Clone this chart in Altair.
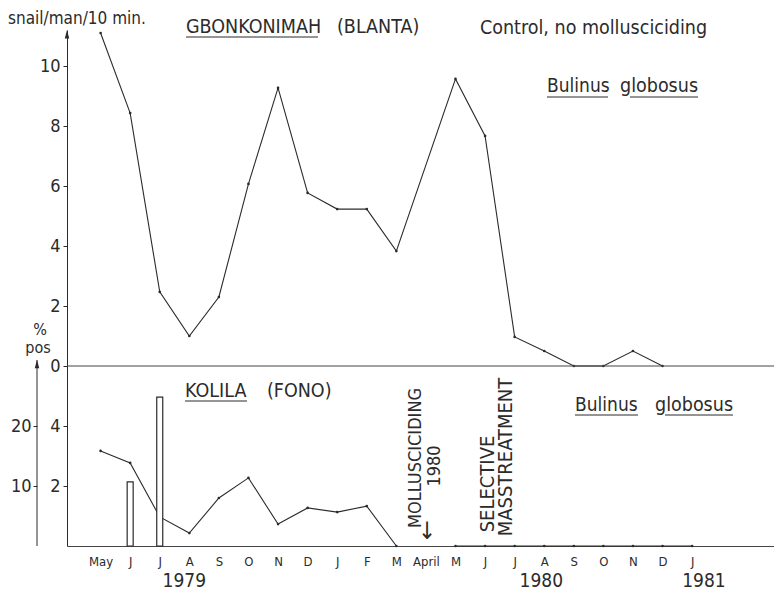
import altair as alt
import pandas as pd

# ---------------- data ----------------
months = ["May", "J", "J", "A", "S", "O", "N", "D", "J", "F", "M", "April",
          "M", "J", "J", "A", "S", "O", "N", "D", "J"]
month_idx = list(range(len(months)))

# Gbonkonimah (Blanta) snails / man / 10 min
top_idx = [0, 1, 2, 3, 4, 5, 6, 7, 8, 9, 10, 12, 13, 14, 15, 16, 17, 18, 19]
top_val = [11.1, 8.43, 2.47, 1.0, 2.3, 6.07, 9.27, 5.77, 5.23, 5.23, 3.83,
           9.57, 7.67, 0.97, 0.5, 0.0, 0.0, 0.5, 0.0]

# Kolila (Fono) snails / man / 10 min
bot_idx = [0, 1, 2, 3, 4, 5, 6, 7, 8, 9, 10, 12, 13, 14, 15, 16, 17, 18, 19, 20]
bot_val = [3.17, 2.77, 0.97, 0.43, 1.6, 2.27, 0.73, 1.27, 1.13, 1.33, 0.0,
           0, 0, 0, 0, 0, 0, 0, 0, 0]
bot_seg = ["a"] * 11 + ["b"] * 9

# Kolila % positive (bars)
bar_idx = [1, 2]
bar_pct = [10.7, 24.8]

years = ["1979", "1980", "1981"]

TOP_OFFSET = 6  # upper panel sits 6 units above the lower panel's baseline

# ---------------- styling ----------------
FONT = "DejaVu Sans Condensed, DejaVu Sans, sans-serif"
INK = "#2b2b2b"
W, H = 707, 516
X0 = -29 / 30

xs = alt.Scale(domain=[X0, X0 + W / 30], nice=False, zero=False)
ys = alt.Scale(domain=[0, 17.2], nice=False, zero=False)
ps = alt.Scale(domain=[0, 86], nice=False, zero=False)

month_expr = "[" + ",".join("'%s'" % m for m in months) + "][datum.value]"

x_axis = alt.Axis(values=month_idx, labelExpr=month_expr, tickSize=0, grid=False,
                  title=None, labelFontSize=13, labelPadding=9, labelFont=FONT,
                  labelColor=INK, domainColor="#444", domainWidth=1)
y_axis = alt.Axis(values=[2, 4, 6, 8, 10, 12, 14, 16],
                  labelExpr="datum.value < 5.5 ? datum.value : datum.value - 6",
                  tickSize=4, grid=False, title=None, labelFontSize=18,
                  labelPadding=3, labelFont=FONT, labelColor=INK,
                  domainColor=INK, tickColor=INK, labelBaseline="middle")
p_axis = alt.Axis(values=[10, 20], orient="left", offset=30, domain=False,
                  tickSize=4, grid=False, title=None, labelFontSize=18,
                  labelPadding=2, labelFont=FONT, labelColor=INK, tickColor=INK,
                  labelBaseline="middle")

top_df = pd.DataFrame({"idx": top_idx, "val": top_val})
bot_df = pd.DataFrame({"idx": bot_idx, "val": bot_val, "seg": bot_seg})
bar_df = pd.DataFrame({"idx": bar_idx, "pct": bar_pct})

pt = alt.OverlayMarkDef(size=7, color=INK, filled=True)

top_line = alt.Chart(top_df).transform_calculate(
    yu="datum.val + %d" % TOP_OFFSET
).mark_line(color=INK, strokeWidth=1.1, point=pt).encode(
    x=alt.X("idx:Q", scale=xs, axis=x_axis),
    y=alt.Y("yu:Q", scale=ys, axis=y_axis),
)

bot_line = alt.Chart(bot_df).mark_line(color=INK, strokeWidth=1.1, point=pt).encode(
    x=alt.X("idx:Q", scale=xs, axis=x_axis),
    y=alt.Y("val:Q", scale=ys, axis=y_axis),
    detail="seg:N",
)

zero_rule = alt.Chart(pd.DataFrame({"z": [TOP_OFFSET]})).mark_rule(
    color="#444", strokeWidth=1
).encode(y=alt.Y("z:Q", scale=ys, axis=y_axis))

ARROW = "M0,-1L0.45,0.7L-0.45,0.7Z"
arrow_inner = alt.Chart(pd.DataFrame({"a": [17.03]})).mark_point(
    shape=ARROW, filled=True, color=INK, size=100, opacity=1
).encode(x=alt.value(0), y=alt.Y("a:Q", scale=ys, axis=y_axis))


def txt(s, x, y, size, align="left", baseline="alphabetic", angle=0):
    return alt.Chart(pd.DataFrame({"t": [s]})).mark_text(
        align=align, baseline=baseline, angle=angle, font=FONT,
        fontSize=size, color=INK
    ).encode(x=alt.value(x), y=alt.value(y), text="t:N")


def uline(x1, x2, y):
    return alt.Chart(pd.DataFrame({"u": [0]})).mark_rule(
        color=INK, strokeWidth=1
    ).encode(x=alt.value(x1), x2=alt.value(x2), y=alt.value(y))


texts = [
    txt("snail/man/10 min.", -59, -6, 17),
    txt("GBONKONIMAH", 119, 3, 19.5), uline(119, 251, 7),
    txt("(BLANTA)", 270, 3, 19.5),
    txt("Control, no mollusciciding", 413, 4, 19.5),
    txt("Bulinus", 480, 62, 19), uline(480, 541, 67),
    txt("globosus", 553, 62, 19.5), uline(563, 631, 67),
    txt("KOLILA", 118, 367, 19.5), uline(118, 180, 371),
    txt("(FONO)", 200, 367, 19.5),
    txt("Bulinus", 508, 381, 19), uline(508, 571, 385),
    txt("globosus", 588, 381, 19.5), uline(598, 666, 385),
    txt("MOLLUSCICIDING", 349, 428, 18, align="center", baseline="middle", angle=270),
    txt("1980", 368, 436, 18, align="center", baseline="middle", angle=270),
    txt("\u2193", 360, 502, 24, align="center", baseline="middle"),
    txt("SELECTIVE", 421, 454, 20, align="center", baseline="middle", angle=270),
    txt("MASSTREATMENT", 439, 427, 20, align="center", baseline="middle", angle=270),
    txt("%", -27, 305, 16, align="center"),
    txt("pos", -29, 323, 16, align="center"),
]

year_pos = pd.DataFrame({"year": years, "xi": [2.83, 14.9, 20.4]})
year_text = alt.Chart(year_pos).mark_text(
    font=FONT, fontSize=19, color=INK, align="center", baseline="bottom"
).encode(x=alt.X("xi:Q", scale=xs, axis=x_axis), y=alt.value(561), text="year:N")

unified = alt.layer(top_line, bot_line, zero_rule, arrow_inner, year_text, *texts)

bars = alt.Chart(bar_df).mark_bar(size=6, fill="white", stroke=INK, strokeWidth=1.2).encode(
    x=alt.X("idx:Q", scale=xs, axis=x_axis),
    y=alt.Y("pct:Q", scale=ps, axis=p_axis),
)
outer_rule = alt.Chart(pd.DataFrame({"p0": [0], "p1": [31]})).mark_rule(
    color=INK, strokeWidth=1
).encode(x=alt.value(-30), y=alt.Y("p0:Q", scale=ps, axis=p_axis), y2="p1:Q")
arrow_outer = alt.Chart(pd.DataFrame({"a": [30.2]})).mark_point(
    shape=ARROW, filled=True, color=INK, size=100, opacity=1
).encode(x=alt.value(-30), y=alt.Y("a:Q", scale=ps, axis=p_axis))

pct_layer = alt.layer(bars, outer_rule, arrow_outer)

chart = alt.layer(unified, pct_layer).resolve_scale(y="independent").properties(
    width=W, height=H,
    padding={"left": 59, "top": 22, "right": 0, "bottom": 46},
    autosize=alt.AutoSizeParams(type="none"),
    background="white",
).configure_view(stroke=None).configure_axis(grid=False)

chart.save("out.html", embed_options={"renderer": "svg", "actions": False})
